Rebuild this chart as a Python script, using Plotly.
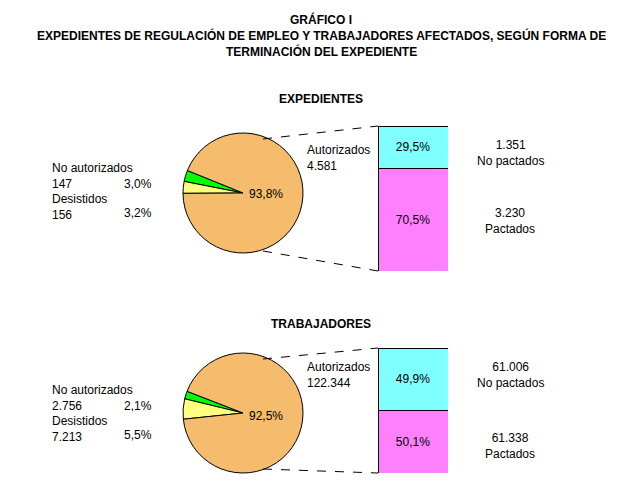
import plotly.graph_objects as go

pie_labels = ["No autorizados", "Desistidos", "Autorizados"]
exp_vals = [147, 156, 4581]
exp_pct = ["3,0%", "3,2%", "93,8%"]
trab_vals = [2756, 7213, 122344]
trab_pct = ["2,1%", "5,5%", "92,5%"]
bar_labels = ["Pactados", "No pactados"]
exp_bar = [70.5, 29.5]
exp_bar_n = ["3.230", "1.351"]
trab_bar = [50.1, 49.9]
trab_bar_n = ["61.338", "61.006"]

W, H = 626, 481
px = lambda x: x / W
py = lambda y: 1 - y / H
pie_colors = ["#00FF00", "#FFFF80", "#F4BC6C"]
bar_colors = ["#FF80FF", "#80FFFF"]

fig = go.Figure()
for vals, pct_small, yr in [(exp_vals, 0.062, (245, 125)), (trab_vals, 0.076, (465, 345))]:
    fig.add_trace(go.Pie(values=vals, labels=pie_labels, sort=False, direction="counterclockwise",
                         rotation=270 + 360 * pct_small / 2, textinfo="none", hoverinfo="none",
                         marker=dict(colors=pie_colors, line=dict(color="black", width=1)),
                         domain=dict(x=[px(170), px(300)], y=[py(yr[0]), py(yr[1])]), showlegend=False))

for vals, ya in [(exp_bar, "y"), (trab_bar, "y2")]:
    for i in range(2):
        fig.add_trace(go.Bar(x=[0], y=[vals[i]], xaxis="x", yaxis=ya, width=1,
                             marker=dict(color=bar_colors[i], line=dict(color="black", width=1)),
                             text=[f"{vals[i]:.1f}%".replace(".", ",")], textposition="inside",
                             insidetextanchor="middle", textfont=dict(color="black", size=12),
                             showlegend=False, hoverinfo="none"))

fig.update_layout(
    width=W, height=H, margin=dict(l=0, r=0, t=0, b=0), barmode="stack",
    paper_bgcolor="white", plot_bgcolor="white",
    font=dict(family="Arial, Liberation Sans", size=12, color="black"),
    xaxis=dict(domain=[px(370), px(440)], range=[-0.5, 0.5], visible=False),
    yaxis=dict(domain=[py(263), py(118)], range=[0, 100], visible=False),
    yaxis2=dict(domain=[py(465), py(340)], range=[0, 100], visible=False, anchor="x"),
)

ann = []
def A(x, y, t, bold=False, align="center", xanchor="center"):
    ann.append(dict(x=px(x), y=py(y), xref="paper", yref="paper", showarrow=False,
                    text=f"<b>{t}</b>" if bold else t, align=align, xanchor=xanchor,
                    yanchor="middle", font=dict(size=12)))

A(313, 11, "GRÁFICO I", True)
A(313, 27, "EXPEDIENTES DE REGULACIÓN DE EMPLEO Y TRABAJADORES AFECTADOS, SEGÚN FORMA DE", True)
A(313, 43, "TERMINACIÓN DEL EXPEDIENTE", True)
A(313, 91, "EXPEDIENTES", True)
A(313, 316, "TRABAJADORES", True)

for (yo, pct, vals, bn) in [(0, exp_pct, exp_vals, exp_bar_n), (222, trab_pct, trab_vals, trab_bar_n)]:
    A(258, 186 + yo, pct[2])
    A(42, 168 + yo, f"{pie_labels[0]}<br>{vals[0]:,}".replace(",", "."), align="left", xanchor="left")
    A(42, 199 + yo, f"{pie_labels[1]}<br>{vals[1]:,}".replace(",", "."), align="left", xanchor="left")
    A(130, 176 + yo, pct[0])
    A(130, 205 + yo, pct[1])
    A(330, 150 + yo if yo == 0 else 367, f"{pie_labels[2]}<br>{vals[2]:,}".replace(",", "."), align="left")
    A(502, 145 + yo if yo == 0 else 367, f"{bn[1]}<br>{bar_labels[1]}")
    A(502, 213 + yo if yo == 0 else 438, f"{bn[0]}<br>{bar_labels[0]}")

fig.update_layout(annotations=ann, shapes=[
    dict(type="line", xref="paper", yref="paper", x0=px(255), y0=py(131), x1=px(370), y1=py(118),
         line=dict(color="black", width=1, dash="dash")),
    dict(type="line", xref="paper", yref="paper", x0=px(255), y0=py(243), x1=px(370), y1=py(263),
         line=dict(color="black", width=1, dash="dash")),
    dict(type="line", xref="paper", yref="paper", x0=px(255), y0=py(351), x1=px(370), y1=py(340),
         line=dict(color="black", width=1, dash="dash")),
    dict(type="line", xref="paper", yref="paper", x0=px(255), y0=py(461), x1=px(370), y1=py(465),
         line=dict(color="black", width=1, dash="dash")),
])
fig.write_html("out.html")
